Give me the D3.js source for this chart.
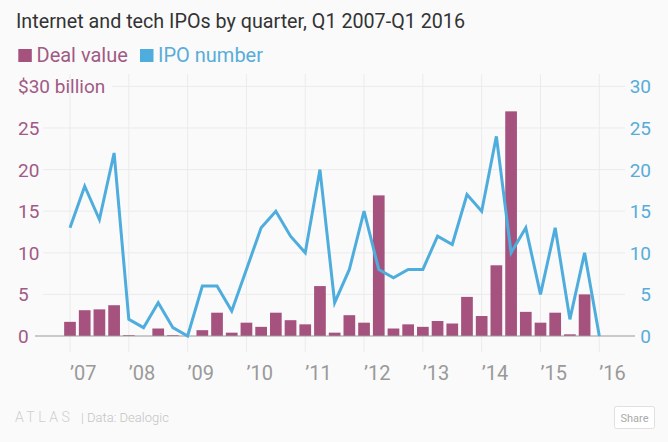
<!DOCTYPE html>
<html>
<head>
<meta charset="utf-8">
<script src="https://cdn.jsdelivr.net/npm/d3@7"></script>
<style>
  html, body { margin: 0; padding: 0; background: #fafafa; }
  svg { display: block; font-family: Roboto, "Noto Sans", sans-serif; }
</style>
</head>
<body>
<svg id="chart" width="668" height="442"></svg>
<script>
const quarters = [
  "2007 Q1","2007 Q2","2007 Q3","2007 Q4",
  "2008 Q1","2008 Q2","2008 Q3","2008 Q4",
  "2009 Q1","2009 Q2","2009 Q3","2009 Q4",
  "2010 Q1","2010 Q2","2010 Q3","2010 Q4",
  "2011 Q1","2011 Q2","2011 Q3","2011 Q4",
  "2012 Q1","2012 Q2","2012 Q3","2012 Q4",
  "2013 Q1","2013 Q2","2013 Q3","2013 Q4",
  "2014 Q1","2014 Q2","2014 Q3","2014 Q4",
  "2015 Q1","2015 Q2","2015 Q3","2015 Q4",
  "2016 Q1"
];
// Deal value, $ billion
const dealValue = [
  1.7, 3.1, 3.2, 3.7,
  0.1, 0, 0.9, 0.1,
  0, 0.7, 2.8, 0.4,
  1.6, 1.1, 2.8, 1.9,
  1.4, 6.0, 0.4, 2.5,
  1.6, 16.9, 0.9, 1.4,
  1.1, 1.8, 1.5, 4.7,
  2.4, 8.5, 27.0, 2.9,
  1.6, 2.8, 0.2, 5.0,
  0
];
// Number of IPOs
const ipoNumber = [
  13, 18, 14, 22,
  2, 1, 4, 1,
  0, 6, 6, 3,
  8, 13, 15, 12,
  10, 20, 4, 8,
  15, 8, 7, 8,
  8, 12, 11, 17,
  15, 24, 10, 13,
  5, 13, 2, 10,
  0
];
const yearTicks = [2007, 2008, 2009, 2010, 2011, 2012, 2013, 2014, 2015, 2016];
const yearLabels = ["\u201907","\u201908","\u201909","\u201910","\u201911","\u201912","\u201913","\u201914","\u201915","\u201916"];
const leftTicks = [0, 5, 10, 15, 20, 25, 30];
const rightTicks = [0, 5, 10, 15, 20, 25, 30];

const BAR = "#a5527f", LINE = "#4eaddd";
const BAR_TEXT = "#a15a85", LINE_TEXT = "#58acd9";

const svg = d3.select("#chart");
svg.append("rect").attr("width", 668).attr("height", 442).attr("fill", "#fafafa");

const qPos = q => { const [y, qq] = q.split(" Q"); return +y + (+qq - 1) / 4; };

const x = d3.scaleLinear().domain([2007, 2016]).range([70, 599.3]);
const yL = d3.scaleLinear().domain([0, 30]).range([336, 86.4]);
const yR = d3.scaleLinear().domain([0, 30]).range([336, 86.4]);

// Title
svg.append("text").attr("x", 16).attr("y", 28.3)
  .attr("font-size", 19.6).attr("fill", "#333")
  .attr("textLength", 449).attr("lengthAdjust", "spacingAndGlyphs")
  .text("Internet and tech IPOs by quarter, Q1 2007-Q1 2016");

// Legend
const leg = svg.append("g");
leg.append("rect").attr("x", 18.3).attr("y", 49).attr("width", 13.5).attr("height", 13).attr("fill", BAR);
leg.append("text").attr("x", 36.5).attr("y", 61.7).attr("font-size", 20).attr("fill", BAR_TEXT).text("Deal value");
leg.append("rect").attr("x", 140).attr("y", 49).attr("width", 13.5).attr("height", 13).attr("fill", LINE);
leg.append("text").attr("x", 158).attr("y", 61.7).attr("font-size", 20).attr("fill", LINE_TEXT).text("IPO number");

// Vertical gridlines
svg.append("g").selectAll("line").data(yearTicks).join("line")
  .attr("x1", d => x(d)).attr("x2", d => x(d))
  .attr("y1", 74).attr("y2", 352)
  .attr("stroke", "#ebebeb").attr("stroke-width", 1);

// Horizontal gridlines
svg.append("g").selectAll("line").data(leftTicks.filter(d => d > 0)).join("line")
  .attr("x1", d => d === 30 ? 112 : 43).attr("x2", 625)
  .attr("y1", d => yL(d)).attr("y2", d => yL(d))
  .attr("stroke", "#ebebeb").attr("stroke-width", 1);

// Left axis labels
svg.append("g").selectAll("text").data(leftTicks).join("text")
  .attr("x", 18).attr("y", d => yL(d) + 7)
  .attr("font-size", 19).attr("fill", BAR_TEXT)
  .text(d => d === 30 ? "$30 billion" : d);

// Right axis labels
svg.append("g").selectAll("text").data(rightTicks).join("text")
  .attr("x", 651).attr("y", d => yR(d) + 7)
  .attr("text-anchor", "end")
  .attr("font-size", 19).attr("fill", LINE_TEXT)
  .text(d => d);

// Bars
const bw = 11.7;
svg.append("g").selectAll("rect").data(quarters).join("rect")
  .attr("x", (q) => x(qPos(q)) - bw / 2)
  .attr("width", bw)
  .attr("y", (q, i) => yL(dealValue[i]))
  .attr("height", (q, i) => yL(0) - yL(dealValue[i]))
  .attr("fill", BAR);

// Baseline
svg.append("line").attr("x1", 35).attr("x2", 635)
  .attr("y1", yL(0)).attr("y2", yL(0))
  .attr("stroke", "#999").attr("stroke-width", 1);

// Line
const line = d3.line()
  .x((q) => x(qPos(q)))
  .y((q, i) => yR(ipoNumber[i]));
svg.append("path").datum(quarters)
  .attr("d", line)
  .attr("fill", "none").attr("stroke", LINE)
  .attr("stroke-width", 3).attr("stroke-linejoin", "miter");

// X-axis labels
svg.append("g").selectAll("text").data(yearTicks).join("text")
  .attr("x", d => x(d)).attr("y", 380)
  .attr("font-size", 20).attr("fill", "#999")
  .text((d, i) => yearLabels[i]);

// Footer
svg.append("text").attr("x", 15).attr("y", 422)
  .attr("font-size", 14).attr("font-weight", 300).attr("letter-spacing", 3.5)
  .attr("fill", "#cfcfcf").text("ATLAS");
svg.append("text").attr("x", 81).attr("y", 422)
  .attr("font-size", 13).attr("font-weight", 300)
  .attr("fill", "#c4c4c4").text("| Data: Dealogic");

// Share button
svg.append("rect").attr("x", 614.5).attr("y", 406.5).attr("width", 40).attr("height", 22)
  .attr("rx", 2).attr("fill", "#fff").attr("stroke", "#e0e0e0");
svg.append("text").attr("x", 634.5).attr("y", 421.5).attr("text-anchor", "middle")
  .attr("font-size", 11).attr("fill", "#aaa").text("Share");
</script>
</body>
</html>
